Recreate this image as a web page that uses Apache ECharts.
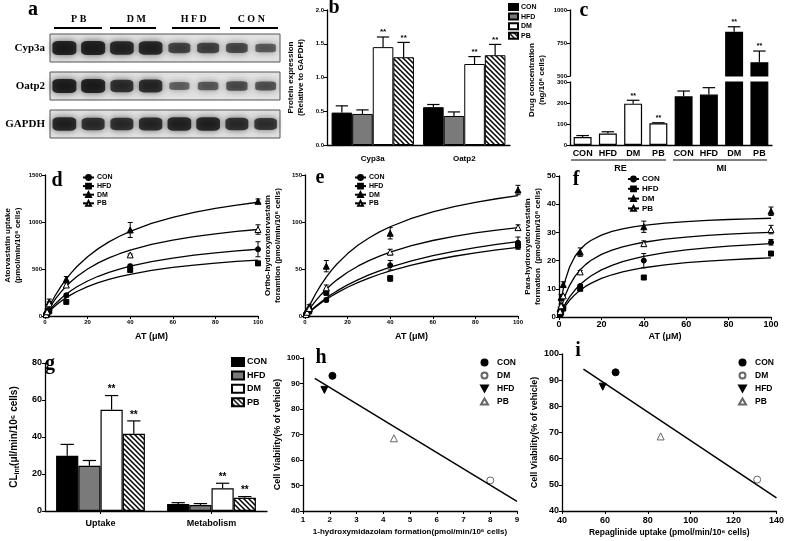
<!DOCTYPE html>
<html><head><meta charset="utf-8">
<script src="https://cdn.jsdelivr.net/npm/echarts@6/dist/echarts.min.js"></script>
<style>html,body{margin:0;padding:0;background:#fff}#c{width:787px;height:541px}</style>
</head><body><div id="c"></div>
<script>
// ---------------- data ----------------
const lanes = ['PB-1','PB-2','DM-1','DM-2','HFD-1','HFD-2','CON-1','CON-2'];
const blotHeaders = ['P B','D M','H F D','C O N'];
const blotProteins = ['Cyp3a','Oatp2','GAPDH'];
const cyp3aBand = [1.0, 1.0, 0.95, 0.95, 0.7, 0.7, 0.65, 0.5];
const oatp2Band = [1.0, 1.0, 0.85, 0.9, 0.45, 0.5, 0.6, 0.55];
const gapdhBand = [0.95, 0.85, 0.85, 0.9, 0.95, 0.95, 0.85, 0.8];

const groups = ['CON','HFD','DM','PB'];
const bCats = ['Cyp3a','Oatp2'];
const bMean = [[0.48,0.56],[0.46,0.43],[1.45,1.20],[1.30,1.33]];
const bErr  = [[0.10,0.04],[0.06,0.06],[0.15,0.11],[0.22,0.16]];
const bSig  = [[0,0],[0,0],[1,1],[1,1]];

const cCats = ['CON','HFD','DM','PB','CON','HFD','DM','PB'];
const cRegions = ['RE','MI'];
const cMean = [38, 55, 197, 103, 232, 240, 835, 604];
const cErr  = [7, 8, 16, 3, 25, 33, 38, 85];
const cSig  = [0, 0, 1, 1, 0, 0, 1, 1];

const atX = [0.5, 1, 2, 10, 40, 100];
const curveX = [0, 1, 2, 3, 5, 7.5, 10, 12.5, 15, 20, 25, 30, 35, 40, 50, 60, 70, 80, 90, 100];

const dMean = [[10,30,60,220,530,710],[8,25,50,150,490,560],[20,60,150,390,915,1220],[15,45,130,330,650,920]];
const dErr  = [[5,5,10,20,20,80],[3,5,5,10,20,20],[10,15,30,30,80,25],[5,10,20,20,10,50]];
const dCurve = [
  [0,30.3,58.7,85.3,133.8,187.1,233.6,274.5,310.8,372.4,422.7,464.4,499.7,529.9,578.8,616.8,647.1,671.9,692.5,710.0],
  [0,25.4,49.1,71.4,112.1,156.7,195.7,229.9,260.4,312.0,354.0,389.0,418.6,443.9,484.9,516.7,542.1,562.8,580.1,594.7],
  [0,51.0,98.8,143.7,225.7,315.9,394.7,464.2,526.0,630.9,716.7,788.1,848.5,900.3,984.4,1049.7,1101.9,1144.6,1180.2,1210.3],
  [0,42.3,81.7,118.4,184.8,256.8,318.9,373.1,420.7,500.6,565.0,618.1,662.4,700.2,760.8,807.4,844.4,874.4,899.2,920.2]
];

const eMean = [[1,2.5,5,17,54,78],[1,2.5,5,25,40,75],[2,5,10,53,88,134],[1.5,4,8,30,68,94]];
const eErr  = [[0.3,0.5,1,2,5,6],[0.3,0.5,1,3,3,4],[1,1,2,6,6,5],[0.5,1,1,3,3,3]];
const eCurve = [
  [0,2.24,4.40,6.48,10.42,14.99,19.19,23.07,26.67,33.12,38.75,43.70,48.09,52.00,58.69,64.19,68.81,72.72,76.09,79.02],
  [0,2.07,4.06,5.98,9.63,13.85,17.73,21.31,24.64,30.61,35.80,40.37,44.42,48.04,54.22,59.31,63.57,67.19,70.30,73.01],
  [0,5.34,10.35,15.05,23.66,33.14,41.44,48.77,55.29,66.37,75.45,83.02,89.43,94.93,103.87,110.82,116.38,120.94,124.74,127.96],
  [0,3.58,6.97,10.17,16.08,22.68,28.53,33.75,38.45,46.53,53.25,58.93,63.78,67.98,74.88,80.32,84.71,88.34,91.38,93.96]
];

const fMean = [[1,2,3.5,11,20,26.5],[0.8,1.5,3,10,14,22.5],[3,7,11.5,23,32,37.5],[2,4,7.5,16,26,31]];
const fErr  = [[0.2,0.3,0.5,0.5,2.5,1],[0.2,0.3,0.3,0.5,0.5,0.5],[0.5,1,1,1.5,2,1.5],[0.3,0.5,0.5,0.5,1,1.5]];
const fCurve = [
  [0,1.76,3.32,4.72,7.12,9.56,11.53,13.15,14.52,16.69,18.33,19.61,20.64,21.49,22.81,23.78,24.52,25.11,25.59,25.99],
  [0,1.48,2.78,3.95,5.93,7.93,9.53,10.84,11.94,13.67,14.98,15.99,16.81,17.47,18.50,19.26,19.84,20.29,20.66,20.97],
  [0,5.77,9.97,13.18,17.74,21.45,23.96,25.77,27.13,29.06,30.35,31.27,31.97,32.51,33.30,33.85,34.26,34.57,34.81,35.01],
  [0,3.09,5.65,7.80,11.23,14.39,16.74,18.57,20.02,22.19,23.74,24.89,25.79,26.51,27.58,28.34,28.92,29.36,29.71,30.00]
];

const gCats = ['Uptake','Metabolism'];
const gMean = [[29.8,3.8],[24.5,3.2],[54.7,12.3],[41.7,7.2]];
const gErr  = [[6.2,0.7],[2.8,0.8],[7.7,2.7],[7.0,0.6]];
const gSig  = [[0,0],[0,0],[1,1],[1,1]];

const hiGroups = ['CON','DM','HFD','PB'];
const hX = [2.1, 8.0, 1.8, 4.4];
const hY = [93, 52, 87.5, 68.5];
const hLineX = [1.44, 9];
const hLineY = [92, 43.8];
const iX = [65, 131, 59, 86];
const iY = [93, 52, 87.5, 68.5];
const iLineX = [50, 140];
const iLineY = [94.2, 45];

// ---------------- styles ----------------
const F = 'Liberation Sans';
const SERIF = 'Liberation Serif';
const hatchImg = (function(){
  const c = document.createElement('canvas'); c.width = 5; c.height = 5;
  const x = c.getContext('2d'); x.fillStyle = '#fff'; x.fillRect(0,0,5,5);
  x.strokeStyle = '#000'; x.lineWidth = 1.5;
  x.beginPath(); x.moveTo(-1,-1); x.lineTo(6,6); x.moveTo(-3.5,1.5); x.lineTo(3.5,8.5); x.moveTo(1.5,-3.5); x.lineTo(8.5,3.5); x.stroke();
  return c;
})();
const barFill = ['#000', '#7a7a7a', '#fff', {image: hatchImg, repeat: 'repeat'}];
const lineSym = ['circle', 'rect', 'triangle', 'triangle'];
const lineSymFill = ['#000', '#000', '#000', '#fff'];
const lineSymSize = [5, 5, 6, 6];
const hiSym = ['circle', 'circle', 'path://M0,0L10,0L5,9Z', 'triangle'];
const hiFill = ['#000', '#fff', '#000', '#fff'];
const hiBorder = ['#000', '#666', '#000', '#666'];
const plainNum = v => String(v);

function axisStyle(fs, extra) {
  return Object.assign({
    axisLine: {show: true, onZero: false, lineStyle: {color: '#000', width: 1.3}},
    axisTick: {show: true, inside: false, length: 3, lineStyle: {color: '#000', width: 1}},
    axisLabel: {color: '#000', fontFamily: F, fontWeight: 'bold', fontSize: fs, margin: 3, formatter: plainNum},
    splitLine: {show: false}
  }, extra || {});
}
function nameStyle(fs, extra) {
  return Object.assign({color: '#000', fontFamily: F, fontWeight: 'bold', fontSize: fs, lineHeight: fs + 2}, extra || {});
}
function legend(names, left, top, iw, ih, gap, fs, extra, tpad) {
  return Object.assign({
    data: names, left: left, top: top, orient: 'vertical', itemWidth: iw, itemHeight: ih, itemGap: gap,
    padding: 0, selectedMode: false, formatter: n => n.split('_')[0],
    textStyle: {fontFamily: F, fontWeight: 'bold', fontSize: fs, color: '#000', padding: [0, 0, 0, tpad == null ? -2 : tpad]}
  }, extra || {});
}

function catErr(xi, yi, k, n, gap, means, errs, sigs, opts) {
  opts = opts || {};
  return {
    type: 'custom', xAxisIndex: xi, yAxisIndex: yi, silent: true, z: 4,
    data: means.map((m, i) => [i, m, errs[i], sigs ? sigs[i] : 0]),
    renderItem: function (params, api) {
      const i = api.value(0), m = api.value(1), e = api.value(2), s = api.value(3);
      if (opts.min != null && m < opts.min) return null;
      if (opts.max != null && m > opts.max) return null;
      const band = api.size([1, 0])[0];
      const gw = band * (1 - gap), bw = gw / n;
      const base = api.coord([i, m]), top = api.coord([i, m + e]);
      const x = base[0] - gw / 2 + bw * (k + 0.5);
      const cw = bw * (opts.cap || 0.3);
      const ch = [
        {type: 'line', shape: {x1: x, y1: base[1], x2: x, y2: top[1]}, style: {stroke: '#000', lineWidth: 1.2}},
        {type: 'line', shape: {x1: x - cw, y1: top[1], x2: x + cw, y2: top[1]}, style: {stroke: '#000', lineWidth: 1.2}}
      ];
      if (s) ch.push({type: 'text', style: {text: '**', x: x, y: top[1] - 1, align: 'center', verticalAlign: 'bottom',
        font: opts.font || 'bold 8px "Liberation Sans"', fill: '#000'}});
      return {type: 'group', children: ch};
    }
  };
}
function ptErr(xi, yi, xs, means, errs) {
  return {
    type: 'custom', xAxisIndex: xi, yAxisIndex: yi, silent: true, z: 4,
    data: xs.map((x, i) => [x, means[i], errs[i]]),
    renderItem: function (params, api) {
      const x = api.value(0), m = api.value(1), e = api.value(2);
      const lo = api.coord([x, Math.max(0, m - e)]), hi = api.coord([x, m + e]);
      const cx = lo[0], w = 2.5;
      return {type: 'group', children: [
        {type: 'line', shape: {x1: cx, y1: lo[1], x2: cx, y2: hi[1]}, style: {stroke: '#000', lineWidth: 1}},
        {type: 'line', shape: {x1: cx - w, y1: lo[1], x2: cx + w, y2: lo[1]}, style: {stroke: '#000', lineWidth: 1}},
        {type: 'line', shape: {x1: cx - w, y1: hi[1], x2: cx + w, y2: hi[1]}, style: {stroke: '#000', lineWidth: 1}}
      ]};
    }
  };
}

// ---------------- layout ----------------
const blotGrid = top => ({left: 50, top: top, width: 230, height: 28, show: true, backgroundColor: '#e2e2e2', borderColor: '#555', borderWidth: 1});
const grids = [
  blotGrid(34), blotGrid(72), blotGrid(110),
  {left: 327, top: 10, width: 183, height: 135},   // b
  {left: 570, top: 10, width: 202, height: 66},    // c upper
  {left: 570, top: 82, width: 202, height: 63},    // c lower
  {left: 45, top: 175, width: 213, height: 141},   // d
  {left: 305, top: 175, width: 213, height: 141},  // e
  {left: 559, top: 176, width: 212, height: 141},  // f
  {left: 45, top: 363, width: 222, height: 148},   // g
  {left: 303, top: 358, width: 214, height: 153},  // h
  {left: 562, top: 354, width: 217, height: 157}   // i
];

const xAxis = [
  {gridIndex: 0, type: 'category', data: lanes, show: false},
  {gridIndex: 1, type: 'category', data: lanes, show: false},
  {gridIndex: 2, type: 'category', data: lanes, show: false},
  {gridIndex: 0, type: 'category', data: blotHeaders, position: 'top', offset: 6,
    axisLine: {show: false}, axisTick: {show: false},
    axisLabel: {color: '#000', fontFamily: SERIF, fontWeight: 'bold', fontSize: 10, margin: 4}},
  Object.assign({gridIndex: 3, type: 'category', data: bCats}, axisStyle(8, {axisTick: {show: false}})),
  {gridIndex: 4, type: 'category', data: cCats, show: false},
  Object.assign({gridIndex: 5, type: 'category', data: cCats}, axisStyle(9, {axisTick: {show: false}})),
  {gridIndex: 5, type: 'category', data: cRegions, position: 'bottom', offset: 15,
    axisLine: {show: false}, axisTick: {show: false},
    axisLabel: {color: '#000', fontFamily: F, fontWeight: 'bold', fontSize: 9, margin: 4}},
  Object.assign({gridIndex: 6, type: 'value', min: 0, max: 100, interval: 20, name: 'AT (μM)', nameLocation: 'middle', nameGap: 15, nameTextStyle: nameStyle(9)}, axisStyle(6)),
  Object.assign({gridIndex: 7, type: 'value', min: 0, max: 100, interval: 20, name: 'AT (μM)', nameLocation: 'middle', nameGap: 15, nameTextStyle: nameStyle(9)}, axisStyle(6)),
  Object.assign({gridIndex: 8, type: 'value', min: 0, max: 100, interval: 20, name: 'AT (μM)', nameLocation: 'middle', nameGap: 14, nameTextStyle: nameStyle(9)}, axisStyle(9)),
  Object.assign({gridIndex: 9, type: 'category', data: gCats}, axisStyle(9, {axisTick: {show: true, alignWithLabel: true, length: 3, lineStyle: {color: '#000'}}})),
  Object.assign({gridIndex: 10, type: 'value', min: 1, max: 9, interval: 1, name: '1-hydroxymidazolam formation(pmol/min/10⁶ cells)', nameLocation: 'middle', nameGap: 16, nameTextStyle: nameStyle(8)}, axisStyle(8)),
  Object.assign({gridIndex: 11, type: 'value', min: 40, max: 140, interval: 20, name: 'Repaglinide uptake (pmol/min/10⁶ cells)', nameLocation: 'middle', nameGap: 16, nameTextStyle: nameStyle(8.5)}, axisStyle(9))
];
xAxis[4].axisLabel.margin = 10;
xAxis[6].axisLabel.margin = 4;
xAxis[6].axisLabel.interval = 0;
xAxis[11].axisLabel.margin = 8;
xAxis[12].axisLabel.margin = 5;
xAxis[13].axisLabel.margin = 5;

function blotY(gi, name) {
  return {gridIndex: gi, type: 'category', data: [name], axisLine: {show: false}, axisTick: {show: false},
    axisLabel: {color: '#000', fontFamily: SERIF, fontWeight: 'bold', fontSize: 11, margin: 5}};
}
const yAxis = [
  blotY(0, blotProteins[0]), blotY(1, blotProteins[1]), blotY(2, blotProteins[2]),
  Object.assign({gridIndex: 3, type: 'value', min: 0, max: 2, interval: 0.5,
    name: 'Protein expression\n(Relative to GAPDH)', nameLocation: 'middle', nameRotate: 90, nameGap: 21, nameTextStyle: nameStyle(8)},
    axisStyle(6)),
  Object.assign({gridIndex: 4, type: 'value', min: 500, max: 1000, interval: 250}, axisStyle(6)),
  Object.assign({gridIndex: 5, type: 'value', min: 0, max: 300, interval: 100}, axisStyle(6)),
  Object.assign({gridIndex: 6, type: 'value', min: 0, max: 1500, interval: 500,
    name: 'Atorvastatin uptake\n(pmol/min/10⁶ cells)', nameLocation: 'middle', nameRotate: 90, nameGap: 22, nameTextStyle: nameStyle(8)}, axisStyle(6)),
  Object.assign({gridIndex: 7, type: 'value', min: 0, max: 150, interval: 50,
    name: 'Ortho-hydroxyatorvastatin\nforamtion (pmol/min/10⁶ cells)', nameLocation: 'middle', nameRotate: 90, nameGap: 22, nameTextStyle: nameStyle(8)}, axisStyle(6)),
  Object.assign({gridIndex: 8, type: 'value', min: 0, max: 50, interval: 10,
    name: 'Para-hydroxyatorvastatin\nformation  (pmol/min/10⁶ cells)', nameLocation: 'middle', nameRotate: 90, nameGap: 14, nameTextStyle: nameStyle(8)}, axisStyle(8)),
  Object.assign({gridIndex: 9, type: 'value', min: 0, max: 80, interval: 20,
    name: '{a|CL}{s|int}{a|(μl/min/10⁶ cells)}', nameLocation: 'middle', nameRotate: 90, nameGap: 24,
    nameTextStyle: nameStyle(10, {rich: {a: {fontFamily: F, fontWeight: 'bold', fontSize: 10, color: '#000', lineHeight: 14},
      s: {fontFamily: F, fontWeight: 'bold', fontSize: 7, color: '#000', lineHeight: 14, verticalAlign: 'bottom', padding: [4, 0, 0, 0]}}})}, axisStyle(9)),
  Object.assign({gridIndex: 10, type: 'value', min: 40, max: 100, interval: 10,
    name: 'Cell Viability(% of vehicle)', nameLocation: 'middle', nameRotate: 90, nameGap: 20, nameTextStyle: nameStyle(9)}, axisStyle(8)),
  Object.assign({gridIndex: 11, type: 'value', min: 40, max: 100, interval: 10,
    name: 'Cell Viability(% of vehicle)', nameLocation: 'middle', nameRotate: 90, nameGap: 22, nameTextStyle: nameStyle(9)}, axisStyle(9))
];
yAxis[3].axisLabel.formatter = v => v.toFixed(1);

// ---------------- series ----------------
const series = [];
// blot
[cyp3aBand, oatp2Band, gapdhBand].forEach((band, gi) => {
  series.push({
    type: 'scatter', xAxisIndex: gi, yAxisIndex: gi, silent: true,
    data: band.map((v, i) => [i, 0, v]),
    symbol: 'roundRect',
    symbolSize: val => [17 + 7 * val[2], 3 + 11 * val[2]],
    itemStyle: {color: p => 'rgba(8,8,8,' + (0.3 + 0.7 * p.value[2]).toFixed(2) + ')',
      shadowBlur: 7, shadowColor: 'rgba(0,0,0,0.75)'}
  });
});
// b
groups.forEach((g, k) => {
  series.push({type: 'bar', name: g + '_b', xAxisIndex: 4, yAxisIndex: 3, data: bMean[k],
    barGap: '0%', barCategoryGap: '10%',
    itemStyle: {color: barFill[k], borderColor: '#000', borderWidth: 1}});
});
groups.forEach((g, k) => series.push(catErr(4, 3, k, 4, 0.10, bMean[k], bErr[k], bSig[k])));
// c
const cColor = p => (p.dataIndex < 4 ? '#fff' : '#000');
series.push({type: 'bar', xAxisIndex: 6, yAxisIndex: 5, data: cMean, barCategoryGap: '29%', clip: true,
  itemStyle: {color: cColor, borderColor: '#000', borderWidth: 1.2}});
series.push({type: 'bar', xAxisIndex: 5, yAxisIndex: 4, data: cMean.map(v => (v > 500 ? v : '-')), barCategoryGap: '29%', clip: true,
  itemStyle: {color: cColor, borderColor: '#000', borderWidth: 1.2}});
series.push(catErr(6, 5, 0, 1, 0.29, cMean, cErr, cSig, {max: 300, cap: 0.35, font: 'bold 7px "Liberation Sans"'}));
series.push(catErr(5, 4, 0, 1, 0.29, cMean, cErr, cSig, {min: 500, cap: 0.35, font: 'bold 7px "Liberation Sans"'}));
// d, e, f
[[8, 6, dMean, dErr, dCurve, '_d'], [9, 7, eMean, eErr, eCurve, '_e'], [10, 8, fMean, fErr, fCurve, '_f']].forEach(([xi, yi, M, E, C, suf]) => {
  groups.forEach((g, k) => {
    series.push({type: 'line', name: g + suf, xAxisIndex: xi, yAxisIndex: yi, smooth: false,
      symbol: lineSym[k], symbolSize: lineSymSize[k], showSymbol: false, silent: true,
      data: curveX.map((x, i) => [x, C[k][i]]),
      lineStyle: {color: '#000', width: 1.3},
      itemStyle: {color: lineSymFill[k], borderColor: '#000', borderWidth: 1}});
  });
  groups.forEach((g, k) => {
    series.push({type: 'scatter', name: g + suf, xAxisIndex: xi, yAxisIndex: yi, silent: true,
      symbol: lineSym[k], symbolSize: lineSymSize[k], z: 5,
      data: atX.map((x, i) => [x, M[k][i]]),
      itemStyle: {color: lineSymFill[k], borderColor: '#000', borderWidth: 1, opacity: 1}});
    series.push(ptErr(xi, yi, atX, M[k], E[k]));
  });
});
// g
groups.forEach((g, k) => {
  series.push({type: 'bar', name: g + '_g', xAxisIndex: 11, yAxisIndex: 9, data: gMean[k],
    barGap: '0%', barCategoryGap: '20%',
    itemStyle: {color: barFill[k], borderColor: '#000', borderWidth: 1.2}});
});
groups.forEach((g, k) => series.push(catErr(11, 9, k, 4, 0.20, gMean[k], gErr[k], gSig[k], {cap: 0.3, font: 'bold 10px "Liberation Sans"'})));
// h, i
[[12, 10, hX, hY, hLineX, hLineY, '_h'], [13, 11, iX, iY, iLineX, iLineY, '_i']].forEach(([xi, yi, X, Y, LX, LY, suf]) => {
  series.push({type: 'line', xAxisIndex: xi, yAxisIndex: yi, silent: true, showSymbol: false, symbol: 'none',
    data: LX.map((x, i) => [x, LY[i]]), lineStyle: {color: '#000', width: 1.5}});
  hiGroups.forEach((g, k) => {
    series.push({type: 'scatter', name: g + suf, xAxisIndex: xi, yAxisIndex: yi, silent: true,
      symbol: hiSym[k], symbolSize: 7, data: [[X[k], Y[k]]],
      itemStyle: {color: hiFill[k], borderColor: hiBorder[k], borderWidth: 1, opacity: 1}});
  });
});

// ---------------- legends ----------------
const legends = [
  legend(groups.map(g => g + '_b'), 508, 3, 9, 6, 1.6, 7, {icon: 'rect'}),
  legend(groups.map(g => g + '_d'), 82, 174, 11, 6, 1.6, 7),
  legend(groups.map(g => g + '_e'), 354, 174, 11, 6, 1.6, 7),
  legend(groups.map(g => g + '_f'), 627, 175, 11, 6, 1.8, 8),
  legend(groups.map(g => g + '_g'), 231, 357, 12, 8, 3.4, 9, {icon: 'rect'}),
  legend(hiGroups.map(g => g + '_h'), 480, 358, 7, 6, 4, 8.5, null, 4),
  legend(hiGroups.map(g => g + '_i'), 738, 358, 7, 6, 4, 8.5, null, 4)
];

// ---------------- decoration ----------------
function letter(t, x, y) {
  return {type: 'text', x: x, y: y, silent: true,
    style: {text: t, font: 'bold 20px "Liberation Serif"', fill: '#000', align: 'center', verticalAlign: 'middle'}};
}
const graphic = [
  letter('a', 33, 10), letter('b', 334, 8), letter('c', 584, 11), letter('d', 57, 181),
  letter('e', 320, 178), letter('f', 576, 180), letter('g', 50, 364), letter('h', 321, 358), letter('i', 578, 351)
];
[[54, 102], [110, 156], [172, 220], [230, 278]].forEach(([a, b]) => graphic.push(
  {type: 'line', silent: true, shape: {x1: a, y1: 28, x2: b, y2: 28}, style: {stroke: '#000', lineWidth: 2.2}}));
[[571, 666], [673, 767]].forEach(([a, b]) => graphic.push(
  {type: 'line', silent: true, shape: {x1: a, y1: 160, x2: b, y2: 160}, style: {stroke: '#000', lineWidth: 1}}));
graphic.push({type: 'text', x: 537, y: 80, rotation: Math.PI / 2, silent: true,
  style: {text: 'Drug concentration\n(ng/10⁶ cells)', font: 'bold 8px "Liberation Sans"', fill: '#000', align: 'center', verticalAlign: 'middle', lineHeight: 10}});

const chart = echarts.init(document.getElementById('c'), null, {renderer: 'canvas'});
chart.setOption({
  animation: false,
  backgroundColor: '#fff',
  grid: grids, xAxis: xAxis, yAxis: yAxis, series: series, legend: legends, graphic: graphic
});
</script>
</body></html>
